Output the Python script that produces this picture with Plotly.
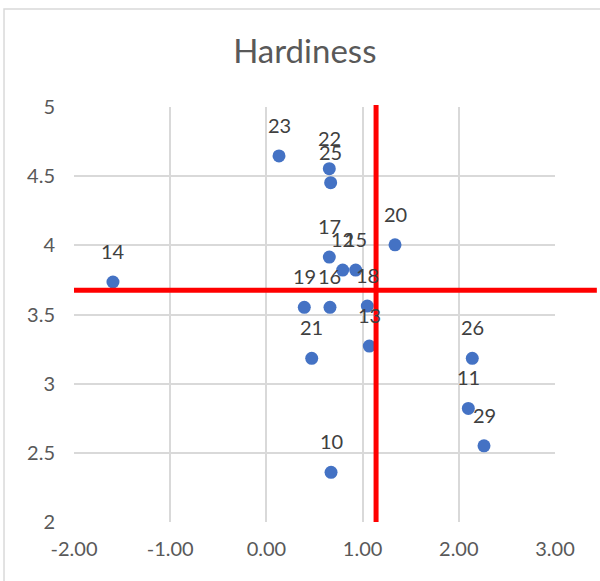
import plotly.graph_objects as go

# Sample ids with their score (x) and hardiness (y)
labels = ["14", "23", "22", "25", "17", "12", "15", "20", "19", "16",
          "18", "13", "21", "26", "11", "29", "10"]
x_vals = [-1.595, 0.131, 0.654, 0.668, 0.654, 0.793, 0.928, 1.337, 0.394, 0.661,
          1.049, 1.070, 0.471, 2.140, 2.099, 2.262, 0.672]
y_vals = [3.735, 4.646, 4.554, 4.453, 3.915, 3.821, 3.821, 4.004, 3.552, 3.552,
          3.561, 3.272, 3.183, 3.183, 2.821, 2.551, 2.359]

# Quadrant split lines
x_split = 1.14
y_split = 3.675

x_ticks = [-2, -1, 0, 1, 2, 3]
x_tick_text = ["-2.00", "-1.00", "0.00", "1.00", "2.00", "3.00"]
y_ticks = [2, 2.5, 3, 3.5, 4, 4.5, 5]

FONT = "Lato"
GRID = "#D9D9D9"

fig = go.Figure()
fig.add_trace(go.Scatter(
    x=x_vals, y=y_vals, mode="markers",
    marker=dict(size=13, color="#4472C4"),
    showlegend=False, cliponaxis=False,
))

# Data labels above each point
for lx, ly, lt in zip(x_vals, y_vals, labels):
    fig.add_annotation(x=lx, y=ly, text=lt, showarrow=False,
                       yanchor="middle", xanchor="center", yshift=31,
                       font=dict(family=FONT, size=20, color="#404040"))

# Outer chart frame
fig.add_shape(type="rect", xref="paper", yref="paper",
              x0=-0.1455, x1=1.12, y0=-0.17, y1=1.236,
              line=dict(color=GRID, width=1.5), fillcolor="rgba(0,0,0,0)",
              layer="below")

# Red reference lines
fig.add_shape(type="line", xref="paper", yref="y",
              x0=0, x1=1.087, y0=y_split, y1=y_split,
              line=dict(color="#FF0000", width=5), layer="above")
fig.add_shape(type="line", xref="x", yref="paper",
              x0=x_split, x1=x_split, y0=0, y1=1.0048,
              line=dict(color="#FF0000", width=5), layer="above")

fig.update_layout(
    width=600, height=581,
    margin=dict(l=74, r=45, t=107, b=59),
    paper_bgcolor="white", plot_bgcolor="white",
    title=dict(text="Hardiness", x=0.508, xanchor="center",
               y=0.912, yanchor="middle",
               font=dict(family=FONT, size=33, color="#595959")),
    xaxis=dict(range=[-2, 3], tickvals=x_ticks, ticktext=x_tick_text,
               showgrid=True, gridcolor=GRID, gridwidth=1.5,
               zeroline=False, showline=False, ticks="",
               ticklabelstandoff=13,
               tickfont=dict(family=FONT, size=20, color="#595959")),
    yaxis=dict(range=[2, 5], tickvals=y_ticks,
               showgrid=True, gridcolor=GRID, gridwidth=1.5,
               zeroline=False, showline=False, ticks="",
               ticklabelstandoff=18,
               tickfont=dict(family=FONT, size=20, color="#595959")),
)

fig.write_html("out.html")
